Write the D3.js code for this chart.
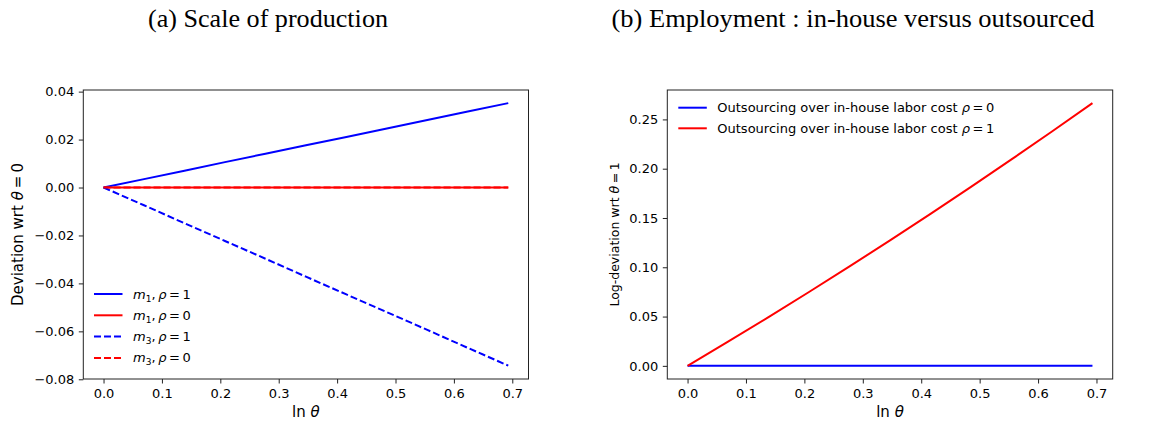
<!DOCTYPE html>
<html><head><meta charset="utf-8">
<script src="https://cdn.jsdelivr.net/npm/d3@7"></script>
<style>
body{margin:0;background:#fff;}
svg{display:block;}
text{font-family:"DejaVu Sans",sans-serif;fill:#000;}
</style></head>
<body><svg id="c" width="1158" height="423"></svg>
<script>
// ---- data ----
const lnTheta = [0, 0.0693, 0.1386, 0.2079, 0.2773, 0.3466, 0.4159, 0.4852, 0.5545, 0.6238, 0.6931];
const m1Rho1 = [0, 0.0035, 0.0070, 0.0106, 0.0141, 0.0176, 0.0211, 0.0246, 0.0282, 0.0317, 0.0352];
const m1Rho0 = [0, 0, 0, 0, 0, 0, 0, 0, 0, 0, 0];
const m3Rho1 = [0, -0.0074, -0.0149, -0.0223, -0.0297, -0.0372, -0.0446, -0.0520, -0.0594, -0.0669, -0.0743];
const m3Rho0 = [0, 0, 0, 0, 0, 0, 0, 0, 0, 0, 0];
const outRho0 = [0, 0, 0, 0, 0, 0, 0, 0, 0, 0, 0];
const outRho1 = [0, 0.0245, 0.0494, 0.0749, 0.1009, 0.1273, 0.1542, 0.1815, 0.2094, 0.2377, 0.2665];
const xTicks = [0, 0.1, 0.2, 0.3, 0.4, 0.5, 0.6, 0.7];
const yTicksA = [-0.08, -0.06, -0.04, -0.02, 0, 0.02, 0.04];
const yTicksB = [0, 0.05, 0.10, 0.15, 0.20, 0.25];

const svg = d3.select("#c");

function fmt(d, n){ const s = Math.abs(d).toFixed(n); return (d < -1e-12 ? "\u2212" : "") + s; }

function panel(opt){
  const g = svg.append("g");
  const x = d3.scaleLinear().domain([-0.03466, 0.72776]).range([opt.left, opt.right]);
  const y = d3.scaleLinear().domain(opt.ydom).range([opt.bottom, opt.top]);
  const line = d3.line().x((d,i)=>x(lnTheta[i])).y(d=>y(d));
  opt.series.forEach(s=>{
    g.append("path").attr("d", line(s.values)).attr("fill","none")
      .attr("stroke", s.color).attr("stroke-width", 2)
      .attr("stroke-dasharray", s.dash ? "7,3" : null);
  });
  const xa = g.append("g").attr("transform",`translate(0,${opt.bottom})`)
    .call(d3.axisBottom(x).tickValues(xTicks).tickFormat(d=>d.toFixed(1)).tickSize(4.5).tickPadding(5));
  const ya = g.append("g").attr("transform",`translate(${opt.left},0)`)
    .call(d3.axisLeft(y).tickValues(opt.yticks).tickFormat(d=>fmt(d, opt.ydec)).tickSize(4.5).tickPadding(4.5));
  [xa, ya].forEach(a=>{
    a.select(".domain").remove();
    a.selectAll(".tick line").attr("stroke","#222").attr("stroke-width",1);
    a.selectAll(".tick text").style("font-family","DejaVu Sans").style("font-size","13px").attr("fill","#111");
  });
  g.append("rect").attr("x",opt.left).attr("y",opt.top)
    .attr("width",opt.right-opt.left).attr("height",opt.bottom-opt.top)
    .attr("fill","none").attr("stroke","#222").attr("stroke-width",1);
  const xl = g.append("text").attr("x",(opt.left+opt.right)/2).attr("y",417)
    .attr("text-anchor","middle").style("font-size","15px");
  xl.append("tspan").text("ln ");
  xl.append("tspan").style("font-style","italic").text("\u03b8");
  const yl = g.append("text").attr("transform",`translate(${opt.ylx},${(opt.top+opt.bottom)/2}) rotate(-90)`)
    .attr("text-anchor","middle").style("font-size",opt.ylsize+"px");
  yl.append("tspan").text(opt.ylabel+" ");
  yl.append("tspan").style("font-style","italic").text("\u03b8");
  yl.append("tspan").text("\u2009=\u2009"+opt.ylval);
  svg.append("text").attr("x",opt.tx).attr("y",27).attr("text-anchor","middle")
    .style("font-family","'Liberation Serif',serif").style("font-size","25px")
    .attr("textLength",opt.tw).attr("lengthAdjust","spacingAndGlyphs")
    .text(opt.title);
  opt.series.forEach((s,i)=>{
    const ly = opt.legY + i*opt.legStep;
    g.append("line").attr("x1",opt.legX).attr("x2",opt.legX+28.5).attr("y1",ly).attr("y2",ly)
      .attr("stroke",s.color).attr("stroke-width",2).attr("stroke-dasharray", s.dash ? "7,3" : null);
    const t = g.append("text").attr("x",opt.legX+39).attr("y",ly+4.5).style("font-size",opt.legSize+"px");
    s.label(t);
  });
}

function mLabel(sub, rho){
  return t=>{
    t.append("tspan").style("font-style","italic").text("m");
    t.append("tspan").attr("dy",3).style("font-size","9px").text(sub);
    t.append("tspan").attr("dy",-3).text(",\u2009");
    t.append("tspan").style("font-style","italic").text("\u03c1");
    t.append("tspan").text("\u2009=\u2009"+rho);
  };
}
function oLabel(rho){
  return t=>{
    t.append("tspan").text("Outsourcing over in-house labor cost ");
    t.append("tspan").style("font-style","italic").text("\u03c1");
    t.append("tspan").text("\u2009=\u2009"+rho);
  };
}

panel({
  left:83.3, right:528.5, top:90, bottom:379,
  ydom:[-0.07988, 0.04068], yticks:yTicksA, ydec:2,
  ylabel:"Deviation wrt", ylval:"0", ylx:23, ylsize:15,
  title:"(a) Scale of production", tx:268, tw:240,
  legX:94, legY:294, legStep:21.3, legSize:13,
  series:[
    {values:m1Rho1, color:"#0000ff", dash:false, label:mLabel("1","1")},
    {values:m1Rho0, color:"#ff0000", dash:false, label:mLabel("1","0")},
    {values:m3Rho1, color:"#0000ff", dash:true, label:mLabel("3","1")},
    {values:m3Rho0, color:"#ff0000", dash:true, label:mLabel("3","0")}
  ]
});

panel({
  left:667.3, right:1112.7, top:90, bottom:379,
  ydom:[-0.01333, 0.27983], yticks:yTicksB, ydec:2,
  ylabel:"Log-deviation wrt", ylval:"1", ylx:619, ylsize:12.5,
  title:"(b) Employment : in-house versus outsourced", tx:853, tw:483,
  legX:678.3, legY:107.7, legStep:20.6, legSize:13,
  series:[
    {values:outRho0, color:"#0000ff", dash:false, label:oLabel("0")},
    {values:outRho1, color:"#ff0000", dash:false, label:oLabel("1")}
  ]
});
</script></body></html>
